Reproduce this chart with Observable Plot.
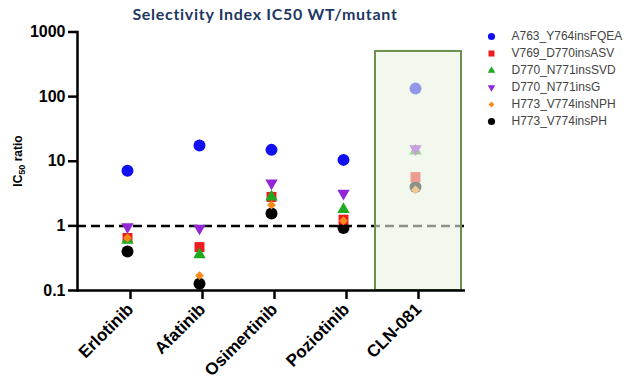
<!DOCTYPE html>
<html>
<head>
<meta charset="utf-8">
<script src="https://cdn.jsdelivr.net/npm/d3@7"></script>
<script src="https://cdn.jsdelivr.net/npm/@observablehq/plot@0.6"></script>
<style>
  html, body { margin: 0; padding: 0; background: #fff; }
  #wrap { position: relative; width: 638px; height: 388px; overflow: hidden; font-family: "Liberation Sans", Arial, sans-serif; }
  #title { position: absolute; left: 0; width: 530px; top: 4px; text-align: center; font-family: Lato, "Open Sans", sans-serif; font-weight: 700; font-size: 16px; color: #1d3763; letter-spacing: 0.7px; }
  #ylab { position: absolute; left: 19px; top: 161px; transform: translate(-50%, -50%) rotate(-90deg); white-space: nowrap; font-weight: 700; font-size: 12px; color: #000; }
  #legend { position: absolute; left: 480px; top: 14px; }
  #chart { position: absolute; left: 0; top: 0; }
</style>
</head>
<body>
<div id="wrap">
  <div id="chart"></div>
  <div id="title">Selectivity Index IC50 WT/mutant</div>
  <div id="ylab">IC<sub style="font-size:9px">50</sub> ratio</div>
  <div id="legend"></div>
</div>
<script>
// ---- data ----
const drugs = ["Erlotinib", "Afatinib", "Osimertinib", "Poziotinib", "CLN-081"];
const series = ["A763_Y764insFQEA", "V769_D770insASV", "D770_N771insSVD", "D770_N771insG", "H773_V774insNPH", "H773_V774insPH"];
const A763_Y764insFQEA = [7.1, 17.5, 15, 10.5, 133];
const V769_D770insASV  = [0.65, 0.47, 2.8, 1.25, 5.7];
const D770_N771insSVD  = [0.6, 0.36, 2.8, 1.8, 14.5];
const D770_N771insG    = [0.97, 0.92, 4.6, 3.2, 15.5];
const H773_V774insNPH  = [0.65, 0.17, 2.1, 1.2, 3.6];
const H773_V774insPH   = [0.40, 0.127, 1.55, 0.93, 4.0];
const yTicks = [0.1, 1, 10, 100, 1000];
const yTickLabels = ["0.1", "1", "10", "100", "1000"];
const reference = [1];
const highlightDrug = ["CLN-081"];
const highlightTop = 500;

// ---- styles ----
const colors = ["#1010f0", "#ee1c1c", "#1faa1f", "#9326d6", "#ff8a1c", "#000000"];
const symbols = ["circle", "square", "triangle", "triangle", "diamond2", "circle"];
const rotations = [0, 0, 0, 180, 0, 0];
const sizes = [6, 5.6, 4.6, 4.6, 4, 6];
const legendSizes = [3.6, 3.4, 2.8, 2.8, 2.6, 3.6];

const allValues = [A763_Y764insFQEA, V769_D770insASV, D770_N771insSVD, D770_N771insG, H773_V774insNPH, H773_V774insPH];
const points = [];
series.forEach((s, si) => {
  drugs.forEach((d, di) => points.push({series: s, drug: d, value: allValues[si][di], si}));
});
const box = highlightDrug.map(d => ({drug: d, y1: yTicks[0], y2: highlightTop}));

const chart = Plot.plot({
  width: 638,
  height: 388,
  marginLeft: 77,
  marginRight: 173,
  marginTop: 31.5,
  marginBottom: 98,
  style: {fontFamily: "'Liberation Sans', Arial, sans-serif", background: "transparent"},
  x: {type: "band", domain: drugs, paddingInner: 0, paddingOuter: 0.16, axis: null},
  y: {type: "log", domain: [0.1, 1000], axis: null},
  color: {type: "ordinal", domain: series, range: colors},
  symbol: {domain: series, range: symbols},
  r: {type: "identity"},
  marks: [
    Plot.ruleY(reference, {stroke: "#000", strokeWidth: 2.5, strokeDasharray: "9,5"}),
    Plot.dot(points, {
      x: "drug", y: "value", fill: "series", symbol: "series",
      r: d => sizes[d.si], rotate: d => rotations[d.si], stroke: "none"
    }),
    Plot.barY(box, {x: "drug", y1: "y1", y2: "y2", fill: "#eaf4e1", fillOpacity: 0.6,
      stroke: "#6b8f4e", strokeWidth: 2, insetLeft: -4, insetRight: -10}),
    Plot.axisY({ticks: yTicks, tickFormat: (d) => yTickLabels[yTicks.indexOf(d)], tickSize: 9, tickPadding: 3,
      strokeWidth: 2.5, fontSize: 16, fontWeight: "bold", fill: "#000"}),
    Plot.axisX({tickSize: 9, tickPadding: 7, tickRotate: -45, strokeWidth: 2.5, fontSize: 17,
      fontWeight: "bold", fill: "#000", label: null, dx: 3}),
    Plot.ruleY([0.1], {stroke: "#000", strokeWidth: 2.5}),
    Plot.frame({anchor: "left", stroke: "#000", strokeWidth: 2.5})
  ]
});
document.getElementById("chart").appendChild(chart);

const legendRows = series.map((s, si) => ({series: s, si}));
const legend = Plot.plot({
  width: 155,
  height: 140,
  marginLeft: 11,
  marginRight: 0,
  marginTop: 11,
  marginBottom: 23,
  style: {fontFamily: "'Liberation Sans', Arial, sans-serif", background: "transparent"},
  y: {type: "point", domain: series, axis: null},
  color: {type: "ordinal", domain: series, range: colors},
  symbol: {domain: series, range: symbols},
  r: {type: "identity"},
  marks: [
    Plot.dot(legendRows, {y: "series", fill: "series", symbol: "series", frameAnchor: "left",
      r: d => legendSizes[d.si], rotate: d => rotations[d.si], stroke: "none"}),
    Plot.text(legendRows, {y: "series", text: "series", frameAnchor: "left", dx: 20,
      textAnchor: "start", fontSize: 12, fill: "#444"})
  ]
});
document.getElementById("legend").appendChild(legend);
</script>
</body>
</html>
